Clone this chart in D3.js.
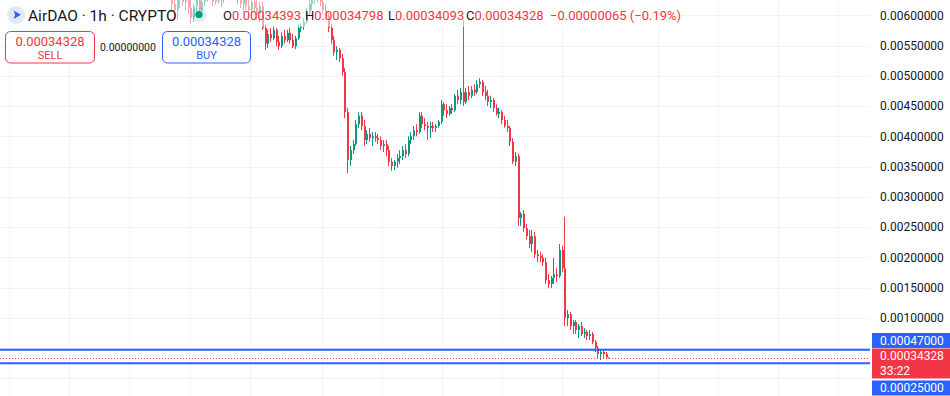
<!DOCTYPE html>
<html>
<head>
<meta charset="utf-8">
<script src="https://cdn.jsdelivr.net/npm/d3@7"></script>
<style>
  body { margin: 0; background: #fff; }
  svg { display: block; font-family: Roboto, "Liberation Sans", sans-serif; }
</style>
</head>
<body>
<svg id="chart" width="950" height="396"></svg>
<script>
// hourly candles, AirDAO / 1h (visible part of the history)
const opens = [
  0.00639, 0.00619, 0.00609, 0.00625, 0.00632, 0.00622, 0.00629, 0.00612, 0.00596, 0.00615,
  0.00625, 0.00609, 0.00622, 0.00632, 0.00639, 0.00629, 0.00622, 0.00630, 0.00624, 0.00629,
  0.00635, 0.00642, 0.00639, 0.00645, 0.00639, 0.00625, 0.00619, 0.00629, 0.00615, 0.00609,
  0.00622, 0.00612, 0.00602, 0.00615, 0.00579, 0.00553, 0.00569, 0.00562, 0.00576, 0.00556,
  0.00549, 0.00566, 0.00559, 0.00571, 0.00559, 0.00549, 0.00562, 0.00579, 0.00582, 0.00589,
  0.00605, 0.00619, 0.00625, 0.00635, 0.00629, 0.00622, 0.00609, 0.00599, 0.00579, 0.00559,
  0.00539, 0.00543, 0.00529, 0.00506, 0.00440, 0.00361, 0.00377, 0.00387, 0.00420, 0.00434,
  0.00417, 0.00394, 0.00404, 0.00397, 0.00400, 0.00397, 0.00394, 0.00384, 0.00387, 0.00377,
  0.00358, 0.00351, 0.00358, 0.00364, 0.00367, 0.00377, 0.00371, 0.00394, 0.00400, 0.00410,
  0.00407, 0.00434, 0.00420, 0.00417, 0.00414, 0.00417, 0.00414, 0.00417, 0.00424, 0.00453,
  0.00443, 0.00437, 0.00447, 0.00443, 0.00467, 0.00460, 0.00473, 0.00457, 0.00473, 0.00467,
  0.00477, 0.00473, 0.00486, 0.00490, 0.00473, 0.00467, 0.00457, 0.00460, 0.00447, 0.00437,
  0.00440, 0.00427, 0.00417, 0.00414, 0.00391, 0.00358, 0.00367, 0.00265, 0.00272, 0.00248,
  0.00235, 0.00222, 0.00235, 0.00205, 0.00202, 0.00199, 0.00192, 0.00162, 0.00156, 0.00166,
  0.00172, 0.00169, 0.00212, 0.00182, 0.000997, 0.00106, 0.000865, 0.000931, 0.000798, 0.000865,
  0.000732, 0.000765, 0.000699, 0.000732, 0.000600, 0.000501, 0.000402, 0.000435, 0.000402, 0.00034393
];
const highs = [
  0.00648, 0.00635, 0.00632, 0.00639, 0.00642, 0.00635, 0.00639, 0.00625, 0.00619, 0.00632,
  0.00635, 0.00629, 0.00639, 0.00645, 0.00648, 0.00642, 0.00635, 0.00642, 0.00635, 0.00639,
  0.00648, 0.00652, 0.00648, 0.00655, 0.00648, 0.00639, 0.00632, 0.00642, 0.00632, 0.00625,
  0.00635, 0.00625, 0.00622, 0.00622, 0.00586, 0.00576, 0.00579, 0.00582, 0.00579, 0.00566,
  0.00572, 0.00576, 0.00576, 0.00579, 0.00569, 0.00566, 0.00586, 0.00586, 0.00596, 0.00612,
  0.00625, 0.00635, 0.00642, 0.00645, 0.00639, 0.00632, 0.00619, 0.00605, 0.00586, 0.00566,
  0.00549, 0.00546, 0.00536, 0.00513, 0.00447, 0.00384, 0.00394, 0.00427, 0.00440, 0.00440,
  0.00427, 0.00410, 0.00414, 0.00407, 0.00407, 0.00404, 0.00400, 0.00394, 0.00394, 0.00384,
  0.00364, 0.00361, 0.00371, 0.00377, 0.00384, 0.00387, 0.00400, 0.00407, 0.00417, 0.00420,
  0.00440, 0.00440, 0.00430, 0.00424, 0.00424, 0.00424, 0.00420, 0.00427, 0.00460, 0.00457,
  0.00453, 0.00450, 0.00453, 0.00470, 0.00477, 0.00480, 0.00592, 0.00480, 0.00483, 0.00483,
  0.00486, 0.00493, 0.00496, 0.00493, 0.00483, 0.00477, 0.00467, 0.00463, 0.00453, 0.00447,
  0.00443, 0.00434, 0.00427, 0.00417, 0.00397, 0.00374, 0.00371, 0.00275, 0.00278, 0.00255,
  0.00245, 0.00245, 0.00242, 0.00212, 0.00209, 0.00205, 0.00199, 0.00172, 0.00169, 0.00199,
  0.00182, 0.00222, 0.00219, 0.00267, 0.00113, 0.00110, 0.000964, 0.000964, 0.000898, 0.000931,
  0.000831, 0.000798, 0.000798, 0.000765, 0.000633, 0.000534, 0.000468, 0.000468, 0.000435, 0.00034798
];
const lows = [
  0.00605, 0.00596, 0.00592, 0.00612, 0.00615, 0.00609, 0.00602, 0.00586, 0.00589, 0.00605,
  0.00599, 0.00602, 0.00615, 0.00622, 0.00625, 0.00615, 0.00617, 0.00619, 0.00614, 0.00620,
  0.00625, 0.00632, 0.00629, 0.00635, 0.00619, 0.00612, 0.00605, 0.00609, 0.00599, 0.00602,
  0.00605, 0.00592, 0.00589, 0.00576, 0.00543, 0.00546, 0.00556, 0.00559, 0.00549, 0.00543,
  0.00546, 0.00553, 0.00556, 0.00553, 0.00546, 0.00544, 0.00559, 0.00572, 0.00576, 0.00586,
  0.00599, 0.00609, 0.00619, 0.00622, 0.00615, 0.00602, 0.00592, 0.00572, 0.00553, 0.00533,
  0.00526, 0.00523, 0.00500, 0.00430, 0.00339, 0.00351, 0.00371, 0.00384, 0.00414, 0.00410,
  0.00384, 0.00387, 0.00391, 0.00384, 0.00391, 0.00387, 0.00377, 0.00374, 0.00367, 0.00351,
  0.00343, 0.00344, 0.00348, 0.00354, 0.00361, 0.00364, 0.00367, 0.00387, 0.00394, 0.00400,
  0.00404, 0.00414, 0.00410, 0.00394, 0.00397, 0.00407, 0.00407, 0.00414, 0.00420, 0.00434,
  0.00430, 0.00434, 0.00437, 0.00440, 0.00453, 0.00453, 0.00450, 0.00453, 0.00460, 0.00463,
  0.00467, 0.00470, 0.00480, 0.00467, 0.00460, 0.00450, 0.00447, 0.00440, 0.00434, 0.00430,
  0.00420, 0.00414, 0.00407, 0.00384, 0.00354, 0.00351, 0.00252, 0.00252, 0.00242, 0.00229,
  0.00215, 0.00209, 0.00199, 0.00192, 0.00192, 0.00186, 0.00156, 0.00149, 0.00149, 0.00156,
  0.00159, 0.00166, 0.00176, 0.000865, 0.000865, 0.000798, 0.000732, 0.000732, 0.000666, 0.000699,
  0.000666, 0.000633, 0.000633, 0.000567, 0.000435, 0.000336, 0.000303, 0.000336, 0.000340, 0.00034093
];
const closes = [
  0.00619, 0.00609, 0.00625, 0.00632, 0.00622, 0.00629, 0.00612, 0.00596, 0.00615, 0.00625,
  0.00609, 0.00622, 0.00632, 0.00639, 0.00629, 0.00622, 0.00630, 0.00624, 0.00629, 0.00635,
  0.00642, 0.00639, 0.00645, 0.00639, 0.00625, 0.00619, 0.00629, 0.00615, 0.00609, 0.00622,
  0.00612, 0.00602, 0.00615, 0.00579, 0.00553, 0.00569, 0.00562, 0.00576, 0.00556, 0.00549,
  0.00566, 0.00559, 0.00571, 0.00559, 0.00549, 0.00562, 0.00579, 0.00582, 0.00589, 0.00605,
  0.00619, 0.00625, 0.00635, 0.00629, 0.00622, 0.00609, 0.00599, 0.00579, 0.00559, 0.00539,
  0.00543, 0.00529, 0.00506, 0.00440, 0.00361, 0.00377, 0.00387, 0.00420, 0.00434, 0.00417,
  0.00394, 0.00404, 0.00397, 0.00400, 0.00397, 0.00394, 0.00384, 0.00387, 0.00377, 0.00358,
  0.00351, 0.00358, 0.00364, 0.00367, 0.00377, 0.00371, 0.00394, 0.00400, 0.00410, 0.00407,
  0.00434, 0.00420, 0.00417, 0.00414, 0.00417, 0.00414, 0.00417, 0.00424, 0.00453, 0.00443,
  0.00437, 0.00447, 0.00443, 0.00467, 0.00460, 0.00473, 0.00457, 0.00473, 0.00467, 0.00477,
  0.00473, 0.00486, 0.00490, 0.00473, 0.00467, 0.00457, 0.00460, 0.00447, 0.00437, 0.00440,
  0.00427, 0.00417, 0.00414, 0.00391, 0.00358, 0.00367, 0.00265, 0.00272, 0.00248, 0.00235,
  0.00222, 0.00235, 0.00205, 0.00202, 0.00199, 0.00192, 0.00162, 0.00156, 0.00166, 0.00172,
  0.00169, 0.00212, 0.00182, 0.000997, 0.00106, 0.000865, 0.000931, 0.000798, 0.000865, 0.000732,
  0.000765, 0.000699, 0.000732, 0.000600, 0.000501, 0.000402, 0.000435, 0.000402, 0.00034393, 0.00034328
];

// price scale ticks (every 0.0005) and time grid positions (in candle slots)
const priceTicks = [0, 0.0005, 0.001, 0.0015, 0.002, 0.0025, 0.003, 0.0035, 0.004, 0.0045, 0.005, 0.0055, 0.006];
const gridSlots = [-58.9, -37.1, -15.3, 6.9, 28.7, 54.9, 76.7, 98.5, 120.4, 142.2, 177.1, 198.9, 220.7, 242.5];

// horizontal levels drawn on the chart
const rangeTop = 0.00047;
const rangeBottom = 0.00025;
const lastPrice = 0.00034328;
const countdown = "33:22";
const spread = 0.0;

const legendTitle = "AirDAO · 1h · CRYPTO";
const ohlcLabels = ["O", "H", "L", "C"];
const ohlcValues = [0.00034393, 0.00034798, 0.00034093, 0.00034328];
const change = -0.00000065;
const changePct = -0.19;

const UP = "#089981", DOWN = "#f23645", BLUE = "#2962ff", TEXT = "#131722", GRID = "#f0f3fa";
const paneRight = 870;

const svg = d3.select("#chart");
const fmt = d3.format(".8f");

const y = d3.scaleLinear().domain([0, 0.006]).range([378.3, 15.3]);
const x = d3.scaleLinear().domain([0, opens.length - 1]).range([171, 608.25]);

svg.append("defs").append("clipPath").attr("id", "pane")
  .append("rect").attr("x", 0).attr("y", 0).attr("width", paneRight).attr("height", 396);

let pane = svg.append("g").attr("clip-path", "url(#pane)");

// grid
pane.append("g").selectAll("line").data(priceTicks).enter().append("line")
  .attr("x1", 0).attr("x2", paneRight)
  .attr("y1", d => Math.round(y(d)) + 0.5).attr("y2", d => Math.round(y(d)) + 0.5)
  .attr("stroke", GRID).attr("stroke-width", 1);
pane.append("g").selectAll("line").data(gridSlots).enter().append("line")
  .attr("x1", d => Math.round(x(d)) + 0.5).attr("x2", d => Math.round(x(d)) + 0.5)
  .attr("y1", 0).attr("y2", 396)
  .attr("stroke", GRID).attr("stroke-width", 1);

// candles
let candles = d3.range(opens.length).map(i => ({
  i: i, o: opens[i], h: highs[i], l: lows[i], c: closes[i]
}));
let cg = pane.append("g").selectAll("g").data(candles).enter().append("g")
  .attr("fill", d => d.c >= d.o ? UP : DOWN)
  .attr("stroke", d => d.c >= d.o ? UP : DOWN);
cg.append("line")
  .attr("x1", d => Math.round(x(d.i)) + 0.5).attr("x2", d => Math.round(x(d.i)) + 0.5)
  .attr("y1", d => y(d.h)).attr("y2", d => y(d.l))
  .attr("stroke-width", 1);
cg.append("rect")
  .attr("stroke", "none")
  .attr("x", d => Math.round(x(d.i)))
  .attr("width", 2)
  .attr("y", d => Math.min(y(d.o), y(d.c)))
  .attr("height", d => Math.max(1, Math.abs(y(d.o) - y(d.c))));

// range lines and last price line
pane.append("g").selectAll("line").data([rangeTop, rangeBottom]).enter().append("line")
  .attr("x1", 0).attr("x2", paneRight)
  .attr("y1", d => y(d)).attr("y2", d => y(d))
  .attr("stroke", BLUE).attr("stroke-width", 2);
pane.append("line")
  .attr("x1", 0).attr("x2", paneRight + 2)
  .attr("y1", Math.round(y(lastPrice)) + 0.5).attr("y2", Math.round(y(lastPrice)) + 0.5)
  .attr("stroke", DOWN).attr("stroke-width", 1).attr("stroke-dasharray", "1,2");

// legend backdrop
svg.append("rect").attr("x", 0).attr("y", 0).attr("width", 680).attr("height", 27)
  .attr("fill", "#fff").attr("opacity", 0.55);

let legend = svg.append("g");
legend.append("circle").attr("cx", 16).attr("cy", 15).attr("r", 9).attr("fill", "#e3e8f2");
legend.append("path").attr("d", "M13.5,10.5 L21,14.8 L13.5,19 L15.2,14.8 Z").attr("fill", BLUE);
legend.append("text").attr("x", 28).attr("y", 20.5)
  .attr("font-size", 15.5).attr("fill", TEXT).text(legendTitle);
legend.append("circle").attr("cx", 199).attr("cy", 14.5).attr("r", 7.5)
  .attr("fill", UP).attr("fill-opacity", 0.15);
legend.append("circle").attr("cx", 199).attr("cy", 14.5).attr("r", 3.6).attr("fill", UP);

const ohlcX = [223, 305, 388, 466];
ohlcLabels.forEach((lab, k) => {
  let t = legend.append("text").attr("x", ohlcX[k]).attr("y", 19.5).attr("font-size", 13);
  t.append("tspan").attr("fill", TEXT).text(lab);
  t.append("tspan").attr("fill", DOWN).text(fmt(ohlcValues[k]));
});
legend.append("text").attr("x", 550).attr("y", 19.5).attr("font-size", 13).attr("fill", DOWN)
  .text(fmt(change).replace("-", "\u2212") + " (" + d3.format(".2f")(changePct).replace("-", "\u2212") + "%)");

// sell / buy buttons
const buttons = [
  { x: 5.5, w: 89, color: DOWN, label: "SELL" },
  { x: 162.5, w: 88, color: BLUE, label: "BUY" }
];
let btn = legend.selectAll("g.btn").data(buttons).enter().append("g").attr("class", "btn");
btn.append("rect").attr("x", d => d.x).attr("y", 31.5).attr("width", d => d.w).attr("height", 31.5)
  .attr("rx", 5).attr("fill", "#fff").attr("stroke", d => d.color).attr("stroke-width", 1);
btn.append("text").attr("x", d => d.x + d.w / 2).attr("y", 45.5).attr("text-anchor", "middle")
  .attr("font-size", 13).attr("fill", d => d.color).text(fmt(lastPrice));
btn.append("text").attr("x", d => d.x + d.w / 2).attr("y", 58.5).attr("text-anchor", "middle")
  .attr("font-size", 11).attr("fill", d => d.color).text(d => d.label);
legend.append("text").attr("x", 128).attr("y", 51).attr("text-anchor", "middle")
  .attr("font-size", 10.5).attr("fill", TEXT).text(fmt(spread));

// price scale tags
let lastY = y(lastPrice);
let redTop = Math.round(lastY) - 9.5;
let tags = [
  { top: redTop, h: 30, fill: DOWN, lines: [fmt(lastPrice), countdown] },
  { top: redTop - 15.5, h: 15, fill: BLUE, lines: [fmt(rangeTop)] },
  { top: redTop + 32, h: 15, fill: BLUE, lines: [fmt(rangeBottom)] }
];

// axis labels, hiding those under a tag
let axisTicks = priceTicks.filter(t => tags.every(g => y(t) < g.top - 7 || y(t) > g.top + g.h + 7));
let axis = svg.append("g").attr("transform", "translate(" + (paneRight + 2) + ",0)")
  .call(d3.axisRight(y).tickValues(axisTicks).tickSize(0).tickPadding(8).tickFormat(fmt));
axis.select(".domain").remove();
axis.selectAll("text").attr("font-family", "Roboto, 'Liberation Sans', sans-serif")
  .attr("font-size", 12).attr("fill", TEXT);

let tg = svg.append("g").selectAll("g").data(tags).enter().append("g");
tg.append("rect").attr("x", paneRight + 2).attr("y", d => d.top).attr("width", 950 - paneRight - 2)
  .attr("height", d => d.h).attr("fill", d => d.fill);
tg.each(function(d) {
  d3.select(this).selectAll("text").data(d.lines).enter().append("text")
    .attr("x", 880).attr("y", (s, k) => d.top + 11.5 + k * 14.5)
    .attr("font-size", 12).attr("fill", "#fff").text(s => s);
});
</script>
</body>
</html>
